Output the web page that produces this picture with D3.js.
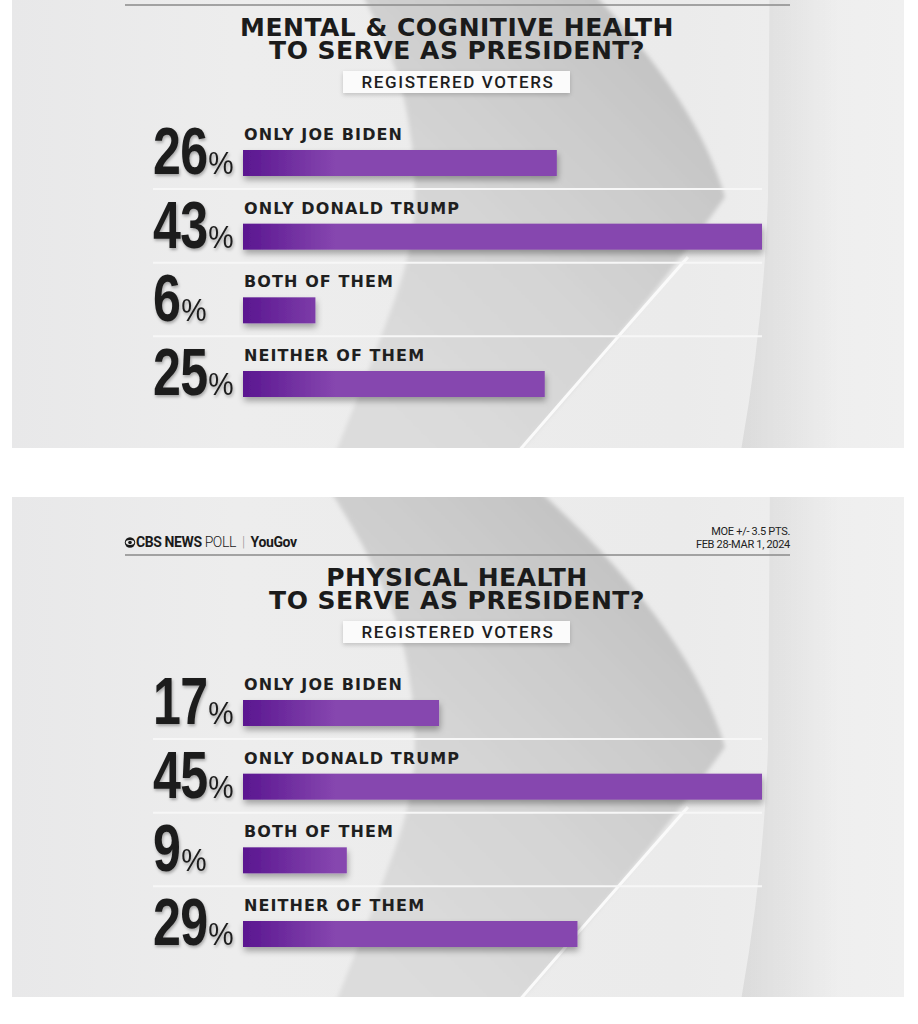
<!DOCTYPE html>
<html>
<head>
<meta charset="utf-8">
<script src="https://cdn.jsdelivr.net/npm/d3@7"></script>
<style>
  body { margin: 0; background: #fff; }
  svg { display: block; }
</style>
</head>
<body>
<div id="chart"></div>
<script>
// chart data
var categories = ["ONLY JOE BIDEN", "ONLY DONALD TRUMP", "BOTH OF THEM", "NEITHER OF THEM"];
var mentalValues = [26, 43, 6, 25];
var physicalValues = [17, 45, 9, 29];
var mentalTitle = ["MENTAL & COGNITIVE HEALTH", "TO SERVE AS PRESIDENT?"];
var physicalTitle = ["PHYSICAL HEALTH", "TO SERVE AS PRESIDENT?"];
var subtitle = "REGISTERED VOTERS";
var moeLines = ["MOE +/- 3.5 PTS.", "FEB 28-MAR 1, 2024"];

var width = 918;
var height = 1024;

var svg = d3.select("#chart")
  .append("svg")
  .attr("width", width)
  .attr("height", height);

var defs = svg.append("defs");

function gradient(id, stops, x1, x2, y1, y2, units) {
  var gr = defs.append("linearGradient")
    .attr("id", id)
    .attr("x1", x1).attr("x2", x2)
    .attr("y1", y1).attr("y2", y2);
  if (units) gr.attr("gradientUnits", units);
  stops.forEach(function (s) {
    gr.append("stop").attr("offset", s[0]).attr("stop-color", s[1]).attr("stop-opacity", s[2] == null ? 1 : s[2]);
  });
}

gradient("baseGrad", [[0, "#e8e8e9"], [0.25, "#ededed"], [0.75, "#ebebeb"], [1, "#f0f0f0"]], 0, 1, 0, 0);
gradient("bandGrad", [[0, "#dcdcdc"], [0.45, "#d5d5d5"], [0.8, "#cbcbcb"], [1, "#c4c4c4"]], 390, 700, 470, 160, "userSpaceOnUse");
gradient("shadeGrad", [[0, "#000", 0.07], [1, "#000", 0]], 745, 840, 0, 0, "userSpaceOnUse");
gradient("barGrad", [[0, "#5a1690"], [1, "#8646af"]], 243, 335, 0, 0, "userSpaceOnUse");

var soft = defs.append("filter").attr("id", "soft").attr("x", "-10%").attr("y", "-10%").attr("width", "120%").attr("height", "120%");
soft.append("feGaussianBlur").attr("stdDeviation", 2);

var barShadow = defs.append("filter").attr("id", "barShadow").attr("x", "-5%").attr("y", "-30%").attr("width", "115%").attr("height", "190%");
barShadow.append("feDropShadow").attr("dx", 1).attr("dy", 4).attr("stdDeviation", 3)
  .attr("flood-color", "#000").attr("flood-opacity", 0.32);

var numShadow = defs.append("filter").attr("id", "numShadow").attr("x", "-10%").attr("y", "-10%").attr("width", "130%").attr("height", "130%");
numShadow.append("feDropShadow").attr("dx", 1).attr("dy", 2).attr("stdDeviation", 1.5)
  .attr("flood-color", "#000").attr("flood-opacity", 0.3);

var boxShadow = defs.append("filter").attr("id", "boxShadow").attr("x", "-10%").attr("y", "-30%").attr("width", "120%").attr("height", "170%");
boxShadow.append("feDropShadow").attr("dx", 0).attr("dy", 2).attr("stdDeviation", 2)
  .attr("flood-color", "#000").attr("flood-opacity", 0.18);

function addClip(id, y0, h) {
  defs.append("clipPath").attr("id", id)
    .append("rect").attr("x", 12).attr("y", y0).attr("width", 892).attr("height", h);
}
addClip("clipTop", 53, 448);
addClip("clipBottom", 0, 500);

// swoosh edge, graphic coordinates
var leftEdge = [[328, -10], [365, 53], [398, 130], [412, 200], [414, 270], [405, 320], [376, 403], [338, 500], [330, 520]];
var edgeLine = d3.line().curve(d3.curveCatmullRom);

function drawBackground(g) {
  g.append("rect")
    .attr("x", 12).attr("y", -20)
    .attr("width", 892).attr("height", 540)
    .attr("fill", "url(#baseGrad)");

  g.append("path")
    .attr("d", edgeLine(leftEdge) + "L505,520Q640,370 725,250Q690,130 535,-10Z")
    .attr("fill", "url(#bandGrad)")
    .attr("filter", "url(#soft)");

  g.append("path")
    .attr("d", "M738,520Q764,380 768,250L770,-20L850,-20L850,520Z")
    .attr("fill", "url(#shadeGrad)");

  g.append("path")
    .attr("d", "M505,520Q600,410 688,310")
    .attr("fill", "none")
    .attr("stroke", "#fafafa")
    .attr("stroke-width", 3);
}

function drawPanel(offsetY, clipId, values, title, showHeader) {
  var g = svg.append("g")
    .attr("transform", "translate(0," + offsetY + ")")
    .attr("clip-path", "url(#" + clipId + ")");

  drawBackground(g);

  var rows = categories.map(function (c, i) { return { cat: c, value: values[i] }; });

  var x = d3.scaleLinear().domain([0, d3.max(values)]).range([243, 762]);
  var y = d3.scalePoint().domain(categories).range([203, 424]);
  var barH = 26;

  // header (cropped away in the upper panel)
  if (showHeader) {
    var eye = g.append("g").attr("transform", "translate(130,45.5)");
    eye.append("circle").attr("r", 5.2).attr("fill", "#1a1a1a");
    eye.append("ellipse").attr("rx", 4.2).attr("ry", 2.4).attr("fill", "#eee");
    eye.append("circle").attr("r", 1.8).attr("fill", "#1a1a1a");

    var logo = g.append("text")
      .attr("x", 136).attr("y", 50)
      .attr("font-family", "Roboto, sans-serif")
      .attr("font-size", 14)
      .attr("letter-spacing", -0.4)
      .attr("fill", "#1a1a1a");
    logo.append("tspan").attr("font-weight", 700).text("CBS NEWS");
    logo.append("tspan").attr("dx", 3).attr("font-weight", 300).text("POLL");
    logo.append("tspan").attr("dx", 6).attr("fill", "#999").attr("font-weight", 300).text("|");
    logo.append("tspan").attr("dx", 6).attr("font-weight", 700).text("YouGov");

    g.selectAll(".moe")
      .data(moeLines)
      .enter()
      .append("text")
      .attr("class", "moe")
      .attr("x", 790)
      .attr("y", function (d, i) { return 38 + i * 12.5; })
      .attr("text-anchor", "end")
      .attr("font-family", "Roboto, sans-serif")
      .attr("font-size", 11)
      .attr("letter-spacing", -0.3)
      .attr("fill", "#222")
      .text(function (d) { return d; });
  }

  g.append("line")
    .attr("x1", 125).attr("x2", 790)
    .attr("y1", 58).attr("y2", 58)
    .attr("stroke", "#8a8a8a")
    .attr("stroke-width", 1.5);

  // title
  g.selectAll(".title")
    .data(title)
    .enter()
    .append("text")
    .attr("class", "title")
    .attr("x", 457)
    .attr("y", function (d, i) { return 89 + i * 23; })
    .attr("text-anchor", "middle")
    .attr("font-family", "'DejaVu Sans', sans-serif")
    .attr("font-weight", 700)
    .attr("font-size", 25)
    .attr("letter-spacing", 0.5)
    .attr("fill", "#1b1b1b")
    .text(function (d) { return d; });

  g.append("rect")
    .attr("x", 343).attr("y", 124)
    .attr("width", 227).attr("height", 22)
    .attr("fill", "#fbfbfb")
    .attr("filter", "url(#boxShadow)");

  g.append("text")
    .attr("x", 458).attr("y", 141)
    .attr("text-anchor", "middle")
    .attr("font-family", "Roboto, sans-serif")
    .attr("font-weight", 500)
    .attr("font-size", 17)
    .attr("letter-spacing", 1.6)
    .attr("fill", "#1e1e1e")
    .text(subtitle);

  // separators
  g.selectAll(".sep")
    .data(categories.slice(1))
    .enter()
    .append("line")
    .attr("class", "sep")
    .attr("x1", 153).attr("x2", 762)
    .attr("y1", function (d) { return y(d) - y.step() + barH + 13; })
    .attr("y2", function (d) { return y(d) - y.step() + barH + 13; })
    .attr("stroke", "#f7f7f7")
    .attr("stroke-width", 2);

  // bars
  g.selectAll(".bar")
    .data(rows)
    .enter()
    .append("rect")
    .attr("class", "bar")
    .attr("x", x(0))
    .attr("y", function (d) { return y(d.cat); })
    .attr("width", function (d) { return x(d.value) - x(0); })
    .attr("height", barH)
    .attr("fill", "url(#barGrad)")
    .attr("filter", "url(#barShadow)");

  g.selectAll(".label")
    .data(rows)
    .enter()
    .append("text")
    .attr("class", "label")
    .attr("x", 244)
    .attr("y", function (d) { return y(d.cat) - 10; })
    .attr("font-family", "'DejaVu Sans', sans-serif")
    .attr("font-weight", 700)
    .attr("font-size", 16)
    .attr("letter-spacing", 1.1)
    .attr("fill", "#1f1f1f")
    .text(function (d) { return d.cat; });

  // big percentages
  var nums = g.selectAll(".num")
    .data(rows)
    .enter()
    .append("g")
    .attr("class", "num")
    .attr("transform", function (d) { return "translate(153," + (y(d.cat) + 24) + ")"; })
    .attr("filter", "url(#numShadow)");

  nums.append("text")
    .attr("transform", "scale(0.76,1)")
    .attr("font-family", "'Liberation Sans', Arial, sans-serif")
    .attr("font-weight", 700)
    .attr("font-size", 66)
    .attr("letter-spacing", -1)
    .attr("fill", "#1c1c1c")
    .text(function (d) { return d.value; });

  nums.append("text")
    .attr("transform", function () {
      var w = this.parentNode.querySelector("text").getComputedTextLength() * 0.76;
      return "translate(" + (w + 1) + ",0) scale(0.92,1)";
    })
    .attr("font-family", "'Liberation Sans', Arial, sans-serif")
    .attr("font-size", 31)
    .attr("fill", "#1c1c1c")
    .text("%");
}

drawPanel(-53, "clipTop", mentalValues, mentalTitle, false);
drawPanel(497, "clipBottom", physicalValues, physicalTitle, true);
</script>
</body>
</html>
